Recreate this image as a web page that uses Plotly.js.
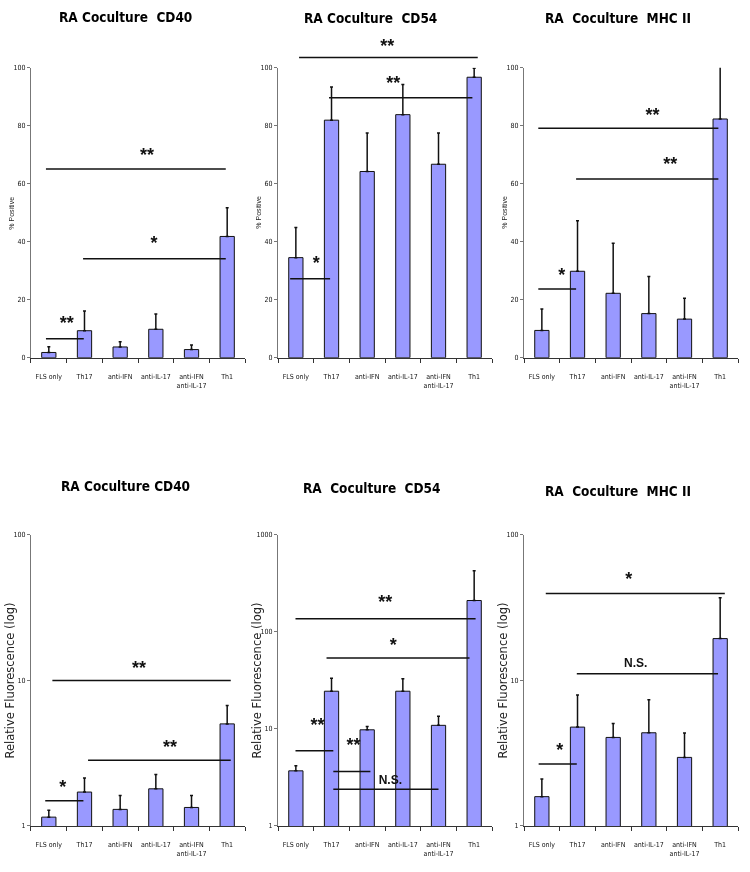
<!DOCTYPE html>
<html><head><meta charset="utf-8">
<script src="https://cdn.plot.ly/plotly-3.0.1.min.js"></script>
<style>html,body{margin:0;padding:0;background:#fff}#chart{width:750px;height:872px}
#chart .main-svg{will-change:transform}</style>
</head><body><div id="chart"></div>
<script>
// ---------- data ----------
const categories = ["FLS only", "Th17", "anti-IFN", "anti-IL-17", "anti-IFN<br>anti-IL-17", "Th1"];
const panelTitles = ["RA Coculture\u00a0 CD40", "RA Coculture\u00a0 CD54", "RA\u00a0 Coculture\u00a0 MHC II",
                     "RA Coculture CD40", "RA\u00a0 Coculture\u00a0 CD54", "RA\u00a0 Coculture\u00a0 MHC II"];
const yTitleTop = "% Positive";
const yTitleBottom = "Relative Fluorescence (log)";

// % positive (top row)
const cd40Pct = [1.8, 9.3, 3.7, 9.8, 2.8, 41.8];
const cd40PctErr = [2.0, 6.8, 1.8, 5.3, 1.6, 9.9];
const cd54Pct = [34.5, 81.9, 64.2, 83.8, 66.7, 96.7];
const cd54PctErr = [10.4, 11.4, 13.3, 10.4, 10.8, 3.1];
const mhcPct = [9.4, 29.8, 22.2, 15.2, 13.3, 82.3];
const mhcPctErr = [7.4, 17.4, 17.3, 12.8, 7.2, 18.2];

// relative fluorescence (bottom row, log scale)
const cd40Fl = [1.15, 1.71, 1.30, 1.80, 1.34, 5.03];
const cd40FlErr = [0.13, 0.43, 0.32, 0.46, 0.28, 1.70];
const cd54Fl = [3.7, 24.5, 9.8, 24.5, 10.9, 211];
const cd54FlErr = [0.47, 8.9, 0.8, 8.4, 2.6, 217];
const mhcFl = [1.59, 4.78, 4.06, 4.37, 2.96, 19.4];
const mhcFlErr = [0.51, 3.17, 1.01, 3.01, 1.39, 17.6];

// significance brackets: [from category, to category, y value, label, label x, label y]
const sigCd40Pct = [[-0.08, 4.96, 65.1, "**", 2.75, 69.3], [0.96, 4.96, 34.1, "*", 2.95, 39], [-0.08, 0.98, 6.5, "**", 0.5, 11.5]];
const sigCd54Pct = [[0.93, 4.95, 89.6, "**", 2.73, 94.2], [-0.16, 0.96, 27.2, "*", 0.57, 32]];
const sigCd54PctAbove = [[0.09, 5.1, 103.5, "**", 2.56, 107]];
const sigMhcPct = [[-0.1, 4.95, 79.1, "**", 3.1, 83.1], [0.96, 4.95, 61.6, "**", 3.6, 66.2], [-0.1, 0.96, 23.7, "*", 0.56, 27.9]];
const sigCd40Fl = [[0.1, 5.1, 10, "**", 2.53, 11.9], [1.1, 5.1, 2.83, "**", 3.4, 3.4], [-0.1, 0.97, 1.49, "*", 0.39, 1.81]];
const sigCd54Fl = [[-0.01, 5.04, 137, "**", 2.51, 196], [0.86, 4.87, 53.8, "*", 2.73, 70], [-0.01, 1.05, 5.97, "**", 0.61, 10.6],
                   [1.05, 2.09, 3.65, "**", 1.62, 6.57], [1.05, 4.0, 2.39, "N.S.", 2.65, 2.92]];
const sigMhcFl = [[0.11, 5.13, 39.6, "*", 2.44, 48.7], [0.98, 4.94, 11.1, "N.S.", 2.63, 12.9], [-0.09, 0.98, 2.67, "*", 0.5, 3.25]];

// ---------- layout / styling ----------
const W = 750, H = 872;
const NARROW = "Liberation Sans Narrow, DejaVu Sans Condensed, Arial Narrow, sans-serif";
const SANS = "Liberation Sans, Arial, sans-serif";
const xDomains = [[0.0413, 0.3267], [0.3707, 0.656], [0.6987, 0.984]];
const yDomTop = [0.5898, 0.9224];
const yDomBot = [0.0528, 0.3865];
const titlePos = [[125, 17], [370, 18], [618, 18], [125, 486], [372, 488], [618, 491]];
const yTitleOffsetTop = 19, yTitleOffsetBot = 21; // px left of the y axis line

const panels = [
  {v: cd40Pct, e: cd40PctErr, sig: sigCd40Pct, log: false, range: [0, 100], yd: yDomTop, col: 0},
  {v: cd54Pct, e: cd54PctErr, sig: sigCd54Pct, log: false, range: [0, 100], yd: yDomTop, col: 1},
  {v: mhcPct, e: mhcPctErr, sig: sigMhcPct, log: false, range: [0, 100], yd: yDomTop, col: 2},
  {v: cd40Fl, e: cd40FlErr, sig: sigCd40Fl, log: true, range: [0, 2], yd: yDomBot, col: 0},
  {v: cd54Fl, e: cd54FlErr, sig: sigCd54Fl, log: true, range: [0, 3], yd: yDomBot, col: 1},
  {v: mhcFl, e: mhcFlErr, sig: sigMhcFl, log: true, range: [0, 2], yd: yDomBot, col: 2}
];

const idx = categories.map((c, i) => i);
const bounds = [-0.5, 0.5, 1.5, 2.5, 3.5, 4.5, 5.5];
const traces = [];
const layout = {
  width: W, height: H, margin: {l: 0, r: 0, t: 0, b: 0},
  paper_bgcolor: "#fff", plot_bgcolor: "rgba(0,0,0,0)", showlegend: false,
  annotations: []
};

function sigTraces(sig, xa, ya) {
  const lx = [], ly = [], tx = [], ty = [], tt = [], ts = [];
  sig.forEach(s => {
    lx.push(s[0], s[1], null); ly.push(s[2], s[2], null);
    tx.push(s[4]); ty.push(s[5]); tt.push(s[3]); ts.push(s[3] === "N.S." ? 12 : 18);
  });
  traces.push({type: "scatter", mode: "lines", x: lx, y: ly, xaxis: xa, yaxis: ya,
    line: {color: "#111", width: 1.5}, hoverinfo: "skip"});
  traces.push({type: "scatter", mode: "text", x: tx, y: ty, text: tt, xaxis: xa, yaxis: ya,
    textposition: "middle center", cliponaxis: false,
    textfont: {family: SANS, size: ts, color: "#111", weight: "bold"}, hoverinfo: "skip"});
}

panels.forEach((p, k) => {
  const n = k + 1;
  const xa = "x" + n, ya = "y" + n;
  const xkey = n === 1 ? "xaxis" : "xaxis" + n;
  const ykey = n === 1 ? "yaxis" : "yaxis" + n;
  traces.push({
    type: "bar", x: idx, y: p.v, xaxis: xa, yaxis: ya, width: 0.4,
    marker: {color: "#9999ff", line: {color: "#111", width: 1}},
    error_y: {type: "data", symmetric: false, array: p.e, arrayminus: p.v.map(() => 0),
      color: "#111", thickness: 1.5, width: 1.5}
  });
  sigTraces(p.sig, xa, ya);
  layout[xkey] = {
    domain: xDomains[p.col], anchor: ya, range: [-0.5, 5.5],
    tickmode: "array", tickvals: idx, ticktext: categories, ticks: "",
    minor: {tickmode: "array", tickvals: bounds, ticks: "outside", ticklen: 4, tickcolor: "#333", tickwidth: 1, showgrid: false},
    showline: true, linecolor: "#333", linewidth: 1, showgrid: false, zeroline: false,
    tickfont: {family: NARROW, size: 7, color: "#111"}, ticklabelstandoff: 12, fixedrange: true
  };
  layout[ykey] = {
    domain: p.yd, anchor: xa, type: p.log ? "log" : "linear", range: p.range,
    dtick: p.log ? 1 : 20, ticks: "outside", ticklen: 3, tickcolor: "#777",
    showline: true, linecolor: "#777", linewidth: 1, showgrid: false, zeroline: false,
    exponentformat: "none", separatethousands: false,
    tickfont: {family: NARROW, size: 7, color: "#111"}, fixedrange: true
  };
  // panel title
  layout.annotations.push({
    text: panelTitles[k], xref: "paper", yref: "paper",
    x: titlePos[k][0] / W, y: 1 - titlePos[k][1] / H, xanchor: "center", yanchor: "middle",
    showarrow: false, font: {family: NARROW, size: 13.5, color: "#000", weight: "bold"}
  });
  // y axis title
  layout.annotations.push({
    text: p.log ? yTitleBottom : yTitleTop, textangle: -90, xref: "paper", yref: "paper",
    x: xDomains[p.col][0] - (p.log ? yTitleOffsetBot : yTitleOffsetTop) / W, y: (p.yd[0] + p.yd[1]) / 2,
    xanchor: "center", yanchor: "middle", showarrow: false,
    font: p.log ? {family: "DejaVu Sans, sans-serif", size: 11.5, color: "#222"}
                : {family: SANS, size: 7, color: "#222"}
  });
});

// extra invisible axes over the CD54 % panel, extending above it for the top bracket
const ext = 1.15;
layout.xaxis7 = {domain: xDomains[1], anchor: "y7", range: [-0.5, 5.5], visible: false, fixedrange: true};
layout.yaxis7 = {domain: [yDomTop[0], yDomTop[0] + (yDomTop[1] - yDomTop[0]) * ext], anchor: "x7",
  range: [0, 100 * ext], visible: false, fixedrange: true};
sigTraces(sigCd54PctAbove, "x7", "y7");

Plotly.newPlot("chart", traces, layout, {staticPlot: true});
</script>
</body></html>
